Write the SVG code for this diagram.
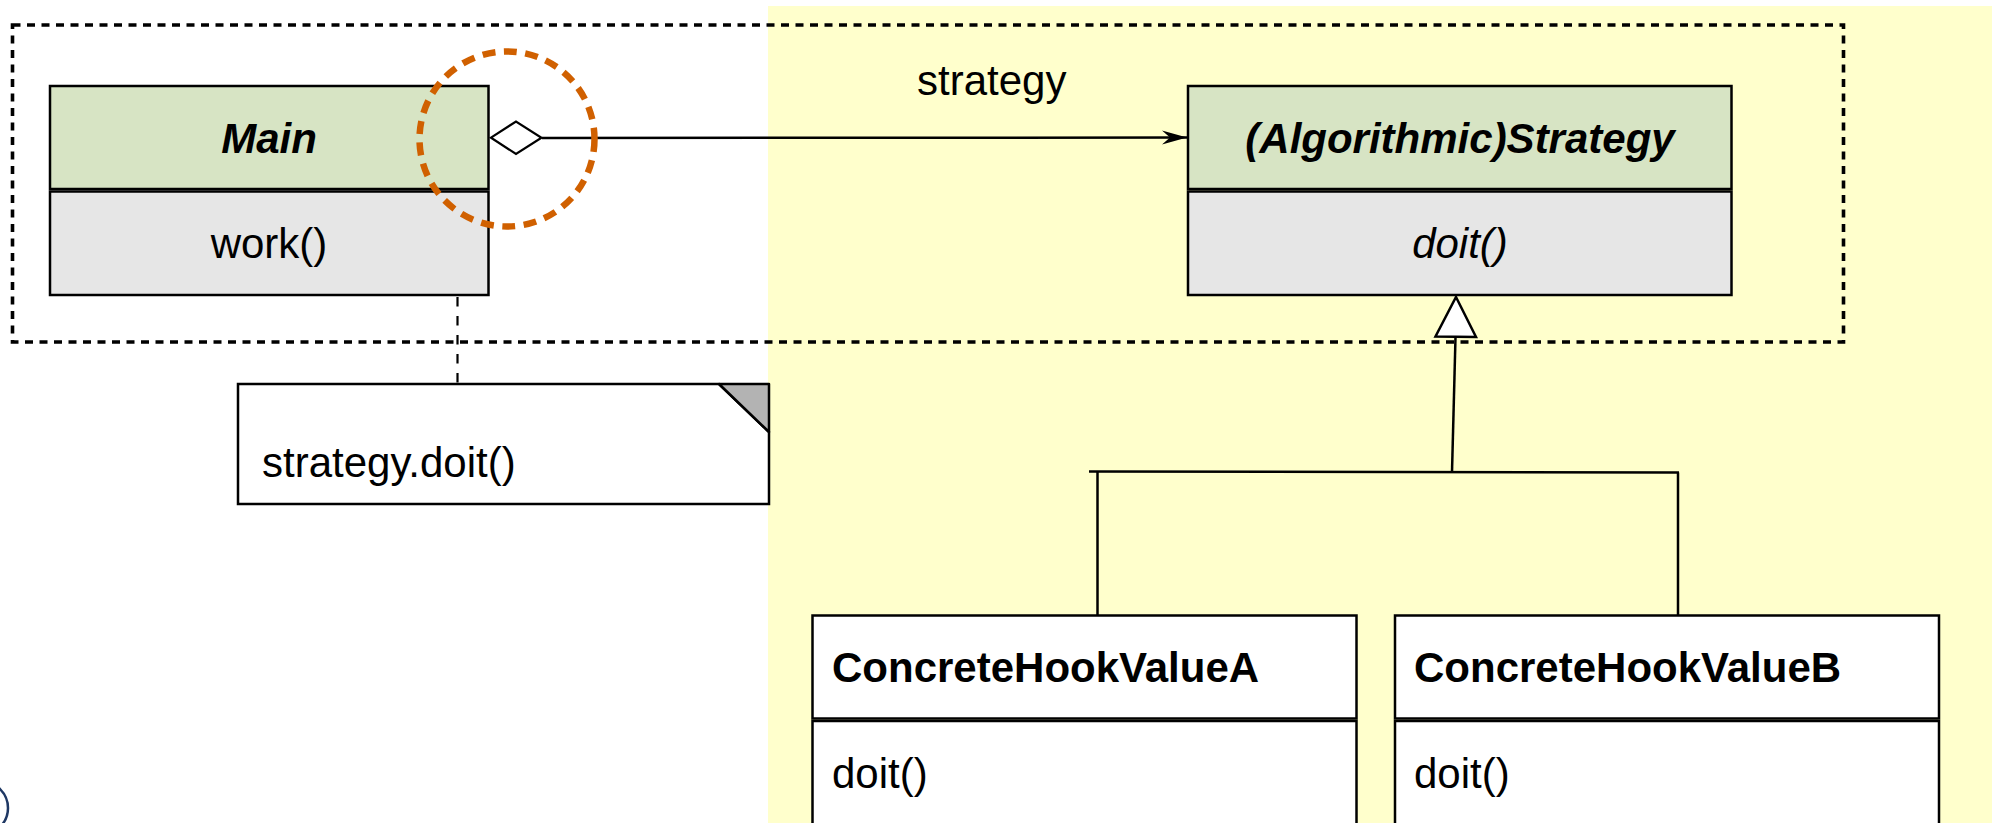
<svg xmlns="http://www.w3.org/2000/svg" width="1992" height="823" viewBox="0 0 1992 823">
<style>
.t{font-family:"Liberation Sans",Arial,sans-serif;font-size:42px;fill:#000}
.hdr{fill:#d7e4c4;stroke:#000;stroke-width:2.5}
.bdy{fill:#e6e6e6;stroke:#000;stroke-width:2.5}
.wht{fill:#fff;stroke:#000;stroke-width:2.5}
.ln{fill:none;stroke:#000;stroke-width:2.5}
</style>
<defs>
<marker id="arr" markerUnits="userSpaceOnUse" markerWidth="30" markerHeight="20" refX="26" refY="8" orient="auto">
<path d="M26,8 L1,1 L9,8 L1,15 Z" fill="#000"/>
</marker>
</defs>
<rect x="0" y="0" width="1992" height="823" fill="#fff"/>
<rect x="768" y="6" width="1224" height="817" fill="#ffffcc"/>
<circle cx="-18.5" cy="808" r="26.5" fill="none" stroke="#1f3864" stroke-width="2.5"/>
<rect id="frame" x="12.5" y="25" width="1831" height="317" fill="none" stroke="#000" stroke-width="3.6" stroke-dasharray="8 6.5"/>
<g id="connectors">
<line x1="542" y1="138" x2="1187" y2="137.5" class="ln" stroke-width="2.2" marker-end="url(#arr)"/>
<polygon points="491,137.7 516,121.5 541.5,137.7 516,154" fill="#fff" stroke="#000" stroke-width="2.2"/>
<line x1="457.5" y1="259" x2="457.5" y2="384" stroke="#000" stroke-width="2.2" stroke-dasharray="9.5 9.5"/>
<line x1="1455.5" y1="337" x2="1452" y2="472" class="ln"/>
<polygon points="1456,297 1476,337 1435.5,336.5" fill="#fff" stroke="#000" stroke-width="2.5"/>
<line x1="1089" y1="471.5" x2="1679" y2="472.5" class="ln"/>
<line x1="1097.5" y1="472" x2="1097.5" y2="615" class="ln"/>
<line x1="1678" y1="472.5" x2="1678" y2="615" class="ln"/>
<text x="917" y="95" class="t">strategy</text>
</g>
<g id="main">
<rect x="50" y="86" width="438.5" height="103" class="hdr"/>
<rect x="50" y="191.5" width="438.5" height="103.5" class="bdy"/>
<text x="269" y="152.5" class="t" text-anchor="middle" font-weight="bold" font-style="italic">Main</text>
<text x="269" y="258" class="t" text-anchor="middle">work()</text>
</g>
<g id="strategy">
<rect x="1188" y="86" width="543.5" height="103" class="hdr"/>
<rect x="1188" y="191.5" width="543.5" height="103.5" class="bdy"/>
<text x="1460" y="152.5" class="t" text-anchor="middle" font-weight="bold" font-style="italic">(Algorithmic)Strategy</text>
<text x="1460" y="258" class="t" text-anchor="middle" font-style="italic">doit()</text>
</g>
<g id="note">
<path d="M238,384 L719,384 L769,432 L769,504 L238,504 Z" class="wht"/>
<path d="M719,384 L769,384 L769,432 Z" fill="#b3b3b3" stroke="#000" stroke-width="2.5" stroke-linejoin="round"/>
<text x="262" y="477" class="t" font-size="37">strategy.doit()</text>
</g>
<g id="concreteA">
<rect x="812.5" y="615.5" width="544" height="103" class="wht"/>
<rect x="812.5" y="721" width="544" height="110" class="wht"/>
<text x="832" y="681.5" class="t" font-weight="bold">ConcreteHookValueA</text>
<text x="832" y="788" class="t">doit()</text>
</g>
<g id="concreteB">
<rect x="1395" y="615.5" width="544" height="103" class="wht"/>
<rect x="1395" y="721" width="544" height="110" class="wht"/>
<text x="1414" y="681.5" class="t" font-weight="bold">ConcreteHookValueB</text>
<text x="1414" y="788" class="t">doit()</text>
</g>
<circle id="highlight" cx="507" cy="139" r="87.5" fill="none" stroke="#d06000" stroke-width="6.5" stroke-dasharray="13 8.5"/>
</svg>
